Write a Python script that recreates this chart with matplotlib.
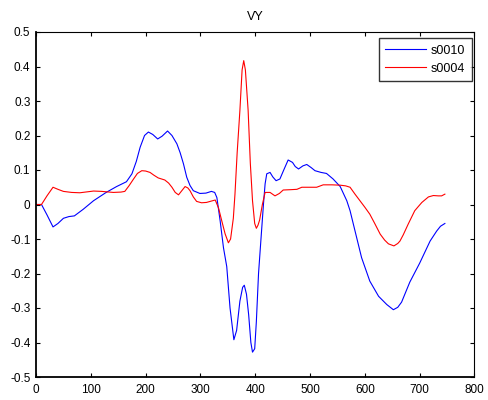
import matplotlib
matplotlib.use("Agg")
import matplotlib.pyplot as plt
from matplotlib.ticker import FuncFormatter

plt.rcParams['font.family'] = ['Liberation Sans', 'DejaVu Sans']
plt.rcParams['axes.unicode_minus'] = False

# s0010 trace (sample index, VY)
s0010_x = [0, 10, 20, 31, 40, 50, 60, 70, 86, 105, 128, 147, 165, 175, 183, 190,
           198, 205, 213, 222, 230, 240, 248, 257, 263, 269, 275, 281, 287, 299,
           310, 320, 326, 330, 336, 342, 348, 354, 361, 366, 372, 377, 380, 384,
           388, 392, 395, 399, 402, 406, 410, 415, 418, 421, 427, 432, 438, 445,
           452, 460, 468, 473, 479, 487, 494, 502, 509, 520, 530, 542, 555, 567,
           573, 579, 594, 609, 625, 640, 652, 660, 667, 682, 700, 719, 731, 738, 746]
s0010_y = [0.0, 0.0, -0.03, -0.065, -0.055, -0.040, -0.035, -0.033, -0.014, 0.011,
           0.035, 0.052, 0.066, 0.089, 0.125, 0.166, 0.200, 0.210, 0.203, 0.190,
           0.198, 0.213, 0.200, 0.176, 0.150, 0.118, 0.079, 0.055, 0.040, 0.032,
           0.033, 0.038, 0.035, 0.020, -0.048, -0.125, -0.180, -0.300, -0.392,
           -0.365, -0.280, -0.240, -0.234, -0.260, -0.320, -0.400, -0.428, -0.418,
           -0.340, -0.200, -0.110, 0.001, 0.060, 0.089, 0.093, 0.080, 0.069, 0.074,
           0.100, 0.129, 0.122, 0.110, 0.103, 0.112, 0.116, 0.107, 0.098, 0.093,
           0.090, 0.074, 0.052, 0.011, -0.018, -0.057, -0.154, -0.222, -0.266,
           -0.290, -0.305, -0.298, -0.283, -0.225, -0.170, -0.106, -0.077, -0.063,
           -0.055]

# s0004 trace (sample index, VY)
s0004_x = [0, 10, 20, 31, 40, 50, 65, 80, 95, 105, 120, 141, 155, 162, 170, 178,
           185, 193, 200, 208, 215, 223, 235, 242, 248, 254, 260, 266, 272, 277,
           281, 287, 293, 302, 311, 320, 327, 333, 339, 345, 351, 355, 360, 363,
           367, 372, 376, 379, 382, 387, 391, 395, 399, 402, 405, 408, 413, 418,
           427, 436, 444, 451, 465, 476, 485, 500, 512, 524, 540, 555, 565, 573,
           582, 591, 600, 609, 618, 628, 636, 643, 653, 660, 664, 670, 679, 691,
           698, 704, 716, 725, 734, 740, 746]
s0004_y = [0.0, 0.0, 0.025, 0.050, 0.044, 0.038, 0.035, 0.034, 0.037, 0.039, 0.038,
           0.035, 0.036, 0.038, 0.055, 0.074, 0.090, 0.098, 0.097, 0.093, 0.085,
           0.077, 0.071, 0.062, 0.050, 0.035, 0.028, 0.040, 0.052, 0.048, 0.040,
           0.022, 0.009, 0.005, 0.006, 0.010, 0.013, -0.010, -0.048, -0.085,
           -0.111, -0.100, -0.040, 0.030, 0.150, 0.273, 0.390, 0.417, 0.390, 0.273,
           0.120, 0.011, -0.055, -0.069, -0.060, -0.045, 0.000, 0.035, 0.035,
           0.025, 0.032, 0.042, 0.043, 0.044, 0.050, 0.050, 0.050, 0.057, 0.057,
           0.056, 0.054, 0.050, 0.030, 0.011, -0.008, -0.028, -0.055, -0.086,
           -0.103, -0.114, -0.120, -0.113, -0.106, -0.088, -0.057, -0.018, -0.005,
           0.006, 0.022, 0.026, 0.025, 0.025, 0.030]

x_ticks = [0, 100, 200, 300, 400, 500, 600, 700, 800]
y_ticks = [-0.5, -0.4, -0.3, -0.2, -0.1, 0, 0.1, 0.2, 0.3, 0.4, 0.5]

fig = plt.figure(figsize=(4.88, 4.0), dpi=100)
ax = fig.add_axes([0.0738, 0.0575, 0.8985, 0.8625])

ax.plot(s0010_x, s0010_y, color='#0000ff', lw=0.8, label='s0010')
ax.plot(s0004_x, s0004_y, color='#ff0000', lw=0.8, label='s0004')

ax.set_xlim(0, 800)
ax.set_ylim(-0.5, 0.5)
ax.set_xticks(x_ticks)
ax.set_yticks(y_ticks)
ax.yaxis.set_major_formatter(FuncFormatter(lambda v, p: '%g' % round(v, 2)))
ax.tick_params(direction='in', length=3, width=0.8, labelsize=8.5, top=True,
               right=True, colors='black')
ax.tick_params(axis='x', pad=5)
ax.tick_params(axis='y', pad=4)
for side, sp in ax.spines.items():
    sp.set_linewidth(1.3 if side in ('left', 'bottom') else 0.8)

ax.set_title('VY', fontsize=9, pad=9)

leg = ax.legend(loc='upper right', bbox_to_anchor=(471.7 / 488, 1 - 38.3 / 400),
                bbox_transform=fig.transFigure, borderaxespad=0,
                fontsize=9, frameon=True, fancybox=False, edgecolor='black',
                handlelength=3.3, borderpad=0.5, labelspacing=0.5,
                handletextpad=0.4)
leg.get_frame().set_linewidth(1.0)

fig.savefig('out.png', dpi=100)
